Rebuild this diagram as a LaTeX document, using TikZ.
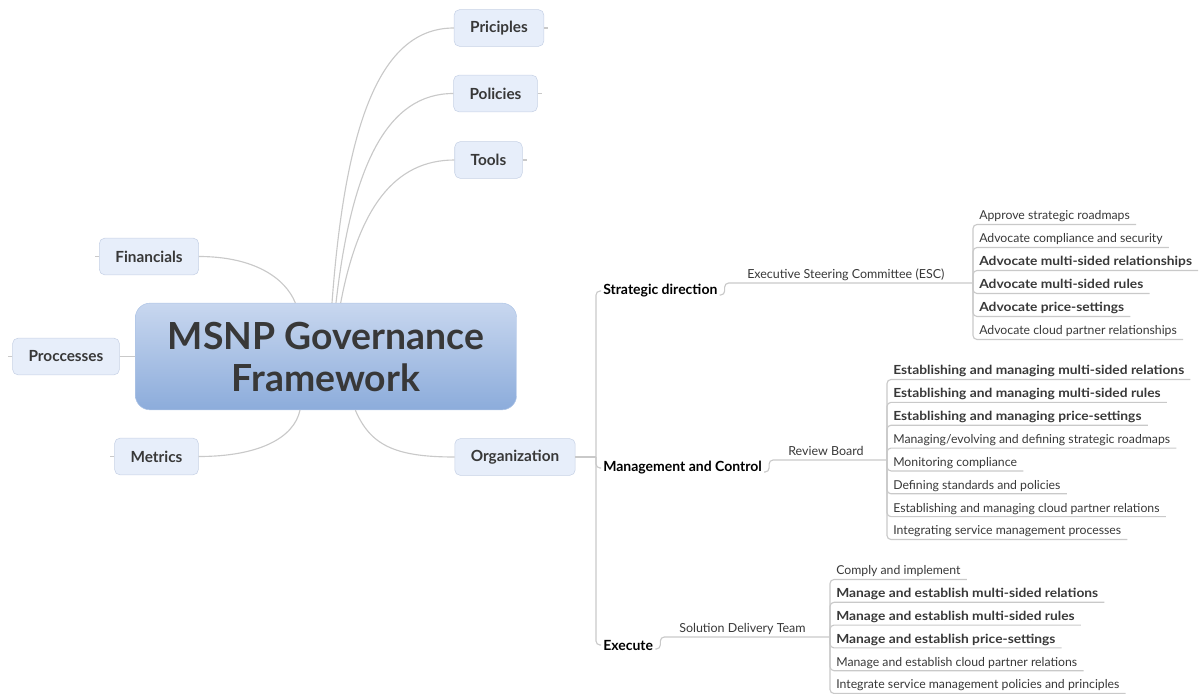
\documentclass[tikz,border=0pt]{standalone}
\usepackage{fontspec}
\setmainfont{Lato}
\newfontfamily\widefont[FakeStretch=1.1]{Lato}
\definecolor{linegray}{HTML}{C9C9C9}
\definecolor{txtgray}{HTML}{383838}
\definecolor{topicfill}{HTML}{E7EEFA}
\definecolor{topicdraw}{HTML}{C6D1E5}
\definecolor{roottop}{HTML}{C8D7EF}
\definecolor{rootbot}{HTML}{8CACDB}
\tikzset{
  conn/.style={draw=linegray, line width=0.85pt, rounded corners=3pt},
  root/.style={rounded corners=11pt, top color=roottop, bottom color=rootbot,
    draw=rootbot!70!white, minimum width=286pt, minimum height=80pt, align=center,
    text=txtgray, font=\fontsize{28}{31.5}\selectfont\bfseries},
  topic/.style={draw=topicdraw, fill=topicfill, rounded corners=4pt,
    minimum height=27.5pt, inner xsep=12pt, text=txtgray,
    font=\fontsize{11.5}{13}\selectfont\bfseries},
  branch/.style={anchor=west, inner xsep=1.5pt, text=black,
    font=\fontsize{10.5}{12}\selectfont\bfseries},
  role/.style={anchor=south west, inner xsep=4.5pt, inner ysep=1.2pt,
    text height=7.5pt, text depth=2pt, text=txtgray,
    font=\fontsize{9.35}{11}\selectfont},
  leaf/.style={role, font=\fontsize{9.2}{11}\selectfont},
  leafb/.style={role, font=\widefont\fontsize{9.4}{11}\selectfont\bfseries},
}
\begin{document}
\begin{tikzpicture}[x=0.75pt,y=-0.75pt]
  \useasboundingbox (0,0) rectangle (1199,693);
  % central topic
  \node[root] (root) at (326,356.5) {MSNP Governance\\Framework};
  % main topics
  \node[topic] (prin) at (499,28) {Priciples};
  \node[topic] (pol) at (495.5,93.5) {Policies};
  \node[topic] (tools) at (488.5,160) {Tools};
  \node[topic] (fin) at (149,256.5) {Financials};
  \node[topic] (proc) at (66,356.5) {Proccesses};
  \node[topic] (met) at (156.5,456.5) {Metrics};
  \node[topic] (org) at (515,457) {Organization};
  % curves from the central topic
  \draw[conn] ([xshift=4.5pt]root.north) .. controls +(14,-190) and +(-70,0) .. (prin.west);
  \draw[conn] ([xshift=7.5pt]root.north) .. controls +(16,-140) and +(-65,0) .. (pol.west);
  \draw[conn] ([xshift=11pt]root.north) .. controls +(18,-95) and +(-60,0) .. (tools.west);
  \draw[conn] (fin.east) .. controls +(55,0) and +(-10,-25) .. ([xshift=-23pt]root.north);
  \draw[conn] (proc.east) -- (root.west);
  \draw[conn] (met.east) .. controls +(60,0) and +(-6,28) .. ([xshift=-19.5pt]root.south);
  \draw[conn] ([xshift=22pt]root.south) .. controls +(15,35) and +(-60,0) .. (org.west);
  % collapsed stubs
  \foreach \n in {prin,pol,tools}{%
    \draw[conn] (\n.east) -- ++(4,0);}
  \foreach \n in {fin,proc,met}{%
    \draw[conn] (\n.west) -- ++(-4,0);}
  % organization branches
  \node[branch] (sd) at (601,291) {Strategic direction};
  \node[branch] (mc) at (601,468) {Management and Control};
  \node[branch] (ex) at (601,645) {Execute};
  \coordinate (orgj) at (596,457);
  \draw[conn] (org.east) -- (orgj);
  \foreach \b in {sd,mc,ex}{%
    \draw[conn] (orgj) |- (\b.west);}
  % strategic direction
  \node[role] (esc) at (741,283) {Executive Steering Committee (ESC)};
  \coordinate (escj) at (973,283);
  \draw[conn] ([yshift=-3pt]sd.east) -- ++(5,0) |- (esc.south west) -- (escj);
  \foreach \st/\txt [count=\i] in {leaf/Approve strategic roadmaps,
      leaf/Advocate compliance and security,
      leafb/Advocate multi-sided relationships,
      leafb/Advocate multi-sided rules,
      leafb/Advocate price-settings,
      leaf/Advocate cloud partner relationships}{%
    \node[\st] (a\i) at (973,{201.5+23*\i}) {\txt};
    \draw[conn] (escj) |- (a\i.south east);}
  % management and control
  \node[role] (rb) at (782,460) {Review Board};
  \coordinate (rbj) at (887,460);
  \draw[conn] ([yshift=-3pt]mc.east) -- ++(5,0) |- (rb.south west) -- (rbj);
  \foreach \st/\txt [count=\i] in {leafb/Establishing and managing multi-sided relations,
      leafb/Establishing and managing multi-sided rules,
      leafb/Establishing and managing price-settings,
      leaf/{Managing/evolving and defining strategic roadmaps},
      leaf/Monitoring compliance,
      leaf/Defining standards and policies,
      leaf/Establishing and managing cloud partner relations,
      leaf/Integrating service management processes}{%
    \node[\st] (b\i) at (887,{356.64+22.86*\i}) {\txt};
    \draw[conn] (rbj) |- (b\i.south east);}
  % execute
  \node[role] (sdt) at (673,637) {Solution Delivery Team};
  \coordinate (sdtj) at (830,637);
  \draw[conn] ([yshift=-3pt]ex.east) -- ++(5,0) |- (sdt.south west) -- (sdtj);
  \foreach \st/\txt [count=\i] in {leaf/Comply and implement,
      leafb/Manage and establish multi-sided relations,
      leafb/Manage and establish multi-sided rules,
      leafb/Manage and establish price-settings,
      leaf/Manage and establish cloud partner relations,
      leaf/Integrate service management policies and principles}{%
    \node[\st] (c\i) at (830,{556.7+22.8*\i}) {\txt};
    \draw[conn] (sdtj) |- (c\i.south east);}
\end{tikzpicture}
\end{document}
